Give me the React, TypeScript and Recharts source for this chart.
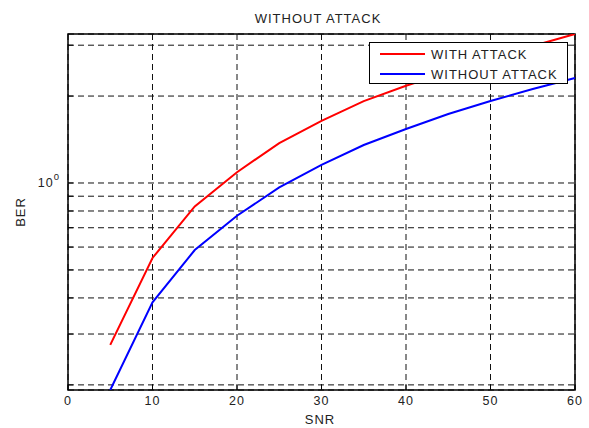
import { CartesianGrid, Line, LineChart, ReferenceArea, XAxis, YAxis } from "recharts";

const snr = [5, 10, 15, 20, 25, 30, 35, 40, 45, 50, 55, 60];
const berWithAttack = [0.275, 0.55, 0.83, 1.09, 1.375, 1.64, 1.92, 2.17, 2.42, 2.69, 2.98, 3.28];
const berWithoutAttack = [0.192, 0.386, 0.586, 0.77, 0.965, 1.155, 1.354, 1.538, 1.734, 1.922, 2.115, 2.309];

const xTicks = [0, 10, 20, 30, 40, 50, 60];
const yTicks = [0.2, 0.3, 0.4, 0.5, 0.6, 0.7, 0.8, 0.9, 1, 2, 3];
const yDomain = [0.192, 3.28];

const series = [
  { key: "withAttack", label: "WITH ATTACK", color: "#ff0000" },
  { key: "withoutAttack", label: "WITHOUT ATTACK", color: "#0000ff" },
];

const data = snr.map((s, i) => ({
  snr: s,
  withAttack: berWithAttack[i],
  withoutAttack: berWithoutAttack[i],
}));

const font = '"Liberation Sans", Arial, Helvetica, sans-serif';
const textColor = "#222";

function XTick({ x, payload }: any) {
  return (
    <g>
      <line x1={x} x2={x} y1={390} y2={385} stroke="#000" />
      <text
        x={x}
        y={405}
        textAnchor="middle"
        fontSize={12.5}
        letterSpacing={1}
        fill={textColor}
        fontFamily={font}
      >
        {payload.value}
      </text>
    </g>
  );
}

function YTick({ y, payload }: any) {
  return (
    <g>
      <line x1={68} x2={73} y1={y} y2={y} stroke="#000" />
      {payload.value === 1 && (
        <text x={60} y={y + 4} textAnchor="end" fontSize={12.5} letterSpacing={1} fill={textColor} fontFamily={font}>
          10
          <tspan dy={-7} fontSize={9.5}>
            0
          </tspan>
        </text>
      )}
    </g>
  );
}

export default function App() {
  return (
    <div
      style={{
        position: "absolute",
        left: 0,
        top: 0,
        width: 589,
        height: 428,
        background: "#fff",
        fontFamily: font,
        color: textColor,
      }}
    >
      <LineChart width={589} height={428} data={data} margin={{ top: 34, right: 14, bottom: 0, left: 0 }}>
        <CartesianGrid stroke="#111" strokeDasharray="6 4" />
        <XAxis
          dataKey="snr"
          type="number"
          domain={[0, 60]}
          ticks={xTicks}
          interval={0}
          height={38}
          axisLine={false}
          tickLine={false}
          tickSize={0}
          tick={<XTick />}
        />
        <YAxis
          scale="log"
          type="number"
          domain={yDomain}
          allowDataOverflow
          ticks={yTicks}
          interval={0}
          width={68}
          axisLine={false}
          tickLine={false}
          tickSize={0}
          tick={<YTick />}
        />
        {series.map((s) => (
          <Line
            key={s.key}
            dataKey={s.key}
            stroke={s.color}
            strokeWidth={2}
            dot={false}
            isAnimationActive={false}
          />
        ))}
        <ReferenceArea
          x1={0}
          x2={60}
          y1={yDomain[0]}
          y2={yDomain[1]}
          fill="none"
          fillOpacity={0}
          stroke="#000"
          strokeWidth={1.5}
          ifOverflow="visible"
        />
      </LineChart>

      <div style={{ position: "absolute", left: 318, top: 18, transform: "translate(-50%, -50%)", fontSize: 13, letterSpacing: 1, whiteSpace: "nowrap" }}>
        WITHOUT ATTACK
      </div>
      <div style={{ position: "absolute", left: 320, top: 419, transform: "translate(-50%, -50%)", fontSize: 13, letterSpacing: 1 }}>
        SNR
      </div>
      <div
        style={{
          position: "absolute",
          left: 20,
          top: 212,
          transform: "translate(-50%, -50%) rotate(-90deg)",
          fontSize: 13,
          letterSpacing: 1,
        }}
      >
        BER
      </div>

      <div
        style={{
          position: "absolute",
          left: 369,
          top: 42,
          width: 197,
          height: 40,
          background: "#fff",
          border: "1px solid #000",
          boxSizing: "content-box",
        }}
      >
        {series.map((s, i) => (
          <div
            key={s.key}
            style={{ position: "absolute", left: 0, top: 1 + i * 20, height: 20, display: "flex", alignItems: "center" }}
          >
            <span style={{ display: "inline-block", marginLeft: 10, width: 45, height: 2, background: s.color }} />
            <span style={{ marginLeft: 6, fontSize: 13, letterSpacing: 1, whiteSpace: "nowrap" }}>{s.label}</span>
          </div>
        ))}
      </div>
    </div>
  );
}
